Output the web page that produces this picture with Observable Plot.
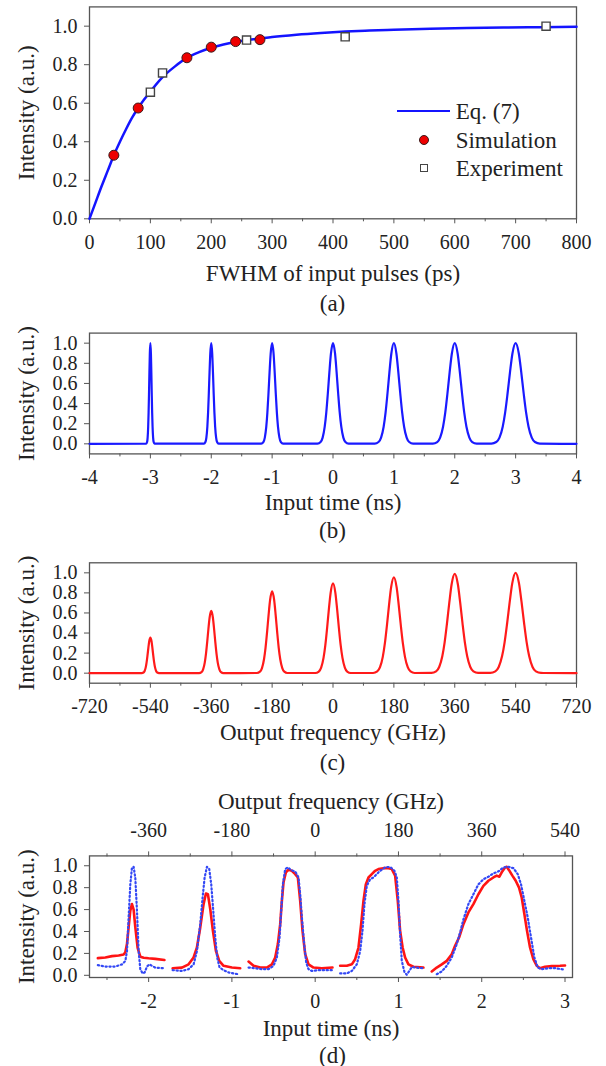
<!DOCTYPE html>
<html><head><meta charset="utf-8">
<script src="https://cdn.jsdelivr.net/npm/d3@7"></script>
<script src="https://cdn.jsdelivr.net/npm/@observablehq/plot@0.6"></script>
<style>
html,body{margin:0;padding:0;background:#fff;}
#root{position:relative;width:606px;height:1066px;overflow:hidden;font-family:'Liberation Serif',serif;color:#222;}
.panel{position:absolute;left:0;}
.panel svg{overflow:visible;}
.cap{position:absolute;font-family:'Liberation Serif',serif;font-size:23px;line-height:1;white-space:nowrap;transform:translate(-50%,-50%);}
.legtxt{position:absolute;font-family:'Liberation Serif',serif;font-size:23px;line-height:1;white-space:nowrap;transform:translateY(-50%);}
</style></head>
<body><div id="root"></div>
<script>
// ---------------- data ----------------
// Panel (a)
const eqFwhm = [0,10,20,30,40,50,60,70,80,90,100,120,140,160,180,200,220,240,260,280,300,340,380,420,460,500,560,620,680,740,800];
const eqInt  = [0,0.085,0.17,0.25,0.33,0.40,0.465,0.525,0.575,0.62,0.66,0.735,0.79,0.835,0.865,0.888,0.905,0.918,0.928,0.936,0.944,0.956,0.965,0.972,0.977,0.981,0.986,0.99,0.993,0.995,0.997];
const simFwhm = [40,80,160,200,240,280];
const simInt  = [0.33,0.575,0.836,0.891,0.92,0.93];
const expFwhm = [100,120,258,420,750];
const expInt  = [0.657,0.757,0.928,0.945,1.0];
const aXTicks = [0,100,200,300,400,500,600,700,800];
const aXMinor = [50,150,250,350,450,550,650,750];
const yTicks  = [0,0.2,0.4,0.6,0.8,1.0];

// normalized pulse profile (offset in FWHM units, relative height)
const profileU = [-1.5,-1.2,-1.0,-0.8,-0.65,-0.5,-0.35,-0.2,0,0.2,0.35,0.5,0.65,0.8,1.0,1.2,1.5];
const profileV = [0.002,0.018,0.062,0.17,0.31,0.5,0.71,0.895,1,0.895,0.71,0.5,0.31,0.17,0.062,0.018,0.002];

// Panel (b)
const bCenters = [-3,-2,-1,0,1,2,3];          // ns
const bFwhm    = [0.045,0.08,0.12,0.17,0.21,0.24,0.265];
const bPeak    = [1,1,1,1,1,1,1];
const bXTicks  = [-4,-3,-2,-1,0,1,2,3,4];
const bXMinor  = [-3.5,-2.5,-1.5,-0.5,0.5,1.5,2.5,3.5];

// Panel (c)
const cCenters = [-540,-360,-180,0,180,360,540]; // GHz
const cFwhm    = [17,24,30,35,41,46,50];
const cPeak    = [0.355,0.62,0.815,0.895,0.955,0.99,1.0];
const cXTicks  = [-720,-540,-360,-180,0,180,360,540,720];
const cXMinor  = [-630,-450,-270,-90,90,270,450,630];

// Panel (d)
const dXTicks = [-2,-1,0,1,2,3];
const dXMinor = [-2.5,-1.5,-0.5,0.5,1.5,2.5];
const dTopGHz = [-360,-180,0,180,360,540];
const dTopMinorGHz = [-450,-270,-90,90,270,450];
const ghzPerNs = 180;
const redSegs = [
 [[-2.61,0.157],[-2.52,0.163],[-2.44,0.175],[-2.36,0.181],[-2.30,0.19],[-2.28,0.21],[-2.26,0.285],[-2.24,0.44],[-2.22,0.59],[-2.20,0.65],[-2.18,0.60],[-2.16,0.44],[-2.132,0.25],[-2.10,0.17],[-2.06,0.16],[-2.0,0.155],[-1.92,0.15],[-1.81,0.14]],
 [[-1.712,0.065],[-1.6,0.07],[-1.52,0.10],[-1.46,0.163],[-1.42,0.254],[-1.38,0.437],[-1.34,0.65],[-1.312,0.747],[-1.288,0.74],[-1.26,0.604],[-1.228,0.406],[-1.192,0.224],[-1.152,0.132],[-1.10,0.087],[-1.0,0.071],[-0.9,0.065]],
 [[-0.80,0.126],[-0.74,0.087],[-0.66,0.071],[-0.58,0.071],[-0.52,0.10],[-0.48,0.163],[-0.448,0.285],[-0.42,0.467],[-0.40,0.68],[-0.38,0.85],[-0.352,0.94],[-0.32,0.964],[-0.28,0.954],[-0.24,0.924],[-0.208,0.893],[-0.18,0.68],[-0.152,0.406],[-0.12,0.193],[-0.08,0.10],[-0.02,0.071],[0.08,0.065],[0.208,0.071]],
 [[0.30,0.087],[0.38,0.087],[0.44,0.10],[0.48,0.147],[0.52,0.254],[0.552,0.467],[0.58,0.68],[0.608,0.83],[0.64,0.893],[0.68,0.924],[0.72,0.954],[0.76,0.97],[0.82,0.978],[0.88,0.978],[0.92,0.97],[0.96,0.91],[0.992,0.68],[1.02,0.406],[1.05,0.254],[1.08,0.163],[1.12,0.10],[1.18,0.078],[1.30,0.071]],
 [[1.40,0.035],[1.46,0.071],[1.52,0.10],[1.58,0.132],[1.64,0.193],[1.68,0.27],[1.728,0.345],[1.78,0.467],[1.84,0.574],[1.90,0.65],[1.96,0.74],[2.02,0.817],[2.08,0.863],[2.14,0.893],[2.18,0.91],[2.212,0.90],[2.24,0.94],[2.28,0.985],[2.30,0.99],[2.328,0.96],[2.368,0.91],[2.408,0.863],[2.448,0.80],[2.48,0.71],[2.512,0.56],[2.544,0.406],[2.58,0.254],[2.62,0.147],[2.66,0.087],[2.70,0.065],[2.76,0.078],[2.84,0.084],[2.94,0.087],[3.0,0.09]]
];
const blueSegs = [
 [[-2.61,0.093],[-2.52,0.08],[-2.40,0.08],[-2.32,0.10],[-2.28,0.13],[-2.26,0.22],[-2.24,0.53],[-2.22,0.83],[-2.20,0.985],[-2.18,0.99],[-2.16,0.89],[-2.14,0.59],[-2.12,0.22],[-2.10,0.056],[-2.072,0.017],[-2.048,0.025],[-2.02,0.08],[-1.992,0.10],[-1.96,0.087],[-1.92,0.07],[-1.82,0.065]],
 [[-1.712,0.047],[-1.6,0.04],[-1.52,0.056],[-1.46,0.10],[-1.42,0.22],[-1.38,0.467],[-1.352,0.71],[-1.328,0.89],[-1.30,0.99],[-1.272,0.97],[-1.248,0.83],[-1.224,0.59],[-1.20,0.345],[-1.176,0.16],[-1.148,0.071],[-1.10,0.047],[-1.04,0.026],[-0.98,0.017],[-0.92,0.01]],
 [[-0.80,0.071],[-0.72,0.065],[-0.64,0.056],[-0.56,0.056],[-0.50,0.087],[-0.46,0.163],[-0.428,0.345],[-0.408,0.59],[-0.388,0.83],[-0.36,0.97],[-0.328,0.985],[-0.288,0.96],[-0.24,0.948],[-0.20,0.893],[-0.18,0.74],[-0.16,0.53],[-0.132,0.285],[-0.108,0.117],[-0.08,0.056],[-0.04,0.04],[0.04,0.047],[0.20,0.047]],
 [[0.30,0.017],[0.38,0.017],[0.44,0.04],[0.50,0.10],[0.54,0.22],[0.568,0.406],[0.592,0.65],[0.62,0.817],[0.66,0.877],[0.70,0.893],[0.74,0.924],[0.78,0.954],[0.84,0.985],[0.90,0.99],[0.952,0.954],[0.98,0.893],[1.0,0.68],[1.02,0.376],[1.04,0.132],[1.072,0.03],[1.10,0.005],[1.13,0.04],[1.16,0.075],[1.22,0.07],[1.29,0.065]],
 [[1.46,0.01],[1.52,0.035],[1.58,0.087],[1.64,0.163],[1.70,0.285],[1.74,0.39],[1.78,0.51],[1.84,0.65],[1.90,0.74],[1.96,0.83],[2.02,0.877],[2.08,0.90],[2.14,0.93],[2.20,0.948],[2.26,0.985],[2.32,0.99],[2.38,0.978],[2.432,0.924],[2.472,0.83],[2.512,0.68],[2.552,0.53],[2.592,0.345],[2.632,0.163],[2.672,0.071],[2.72,0.056],[2.80,0.065],[2.88,0.065],[2.96,0.056],[3.0,0.053]]
];

// ---------------- helpers ----------------
const FONT = "'Liberation Serif', serif";
const AX = "#555";
const TXT = "#222";
const fmt1 = d3.format(".1f");
const root = document.getElementById("root");

function pulseTrain(centers, widths, peaks, lo, hi) {
  const pts = [{x: lo, y: 0}];
  centers.forEach((c, i) => profileU.forEach((u, j) => pts.push({x: c + u * widths[i], y: peaks[i] * profileV[j]})));
  pts.push({x: hi, y: 0});
  return pts;
}
function zip(xs, ys) { return xs.map((x, i) => ({x, y: ys[i]})); }
function flat(segs) { return segs.flatMap((s, k) => s.map(([t, v]) => ({t, v, k}))); }

function commonAxes({xTicks, xMinor, xLabel, xLabelOffset, yLabelOffset = 72}) {
  return [
    Plot.axisY({ticks: yTicks, tickFormat: fmt1, tickSize: 5, tickPadding: 7, stroke: AX, fill: TXT, label: null}),
    Plot.axisY({ticks: [], tickSize: 0, label: "Intensity (a.u.)", labelAnchor: "center", labelArrow: "none", labelOffset: yLabelOffset, fontSize: 23, fill: TXT}),
    Plot.axisX({ticks: xTicks, tickFormat: d => String(d), tickSize: 5, tickPadding: 11, stroke: AX, fill: TXT, label: null}),
    Plot.axisX({ticks: xMinor, tickSize: 3, stroke: AX, fill: "none", label: null}),
    Plot.axisX({ticks: [], tickSize: 0, label: xLabel, labelAnchor: "center", labelArrow: "none", labelOffset: xLabelOffset, fontSize: 23, fill: TXT}),
    Plot.frame({stroke: AX, strokeWidth: 1.3})
  ];
}
function place(svg, top) {
  const d = document.createElement("div");
  d.className = "panel"; d.style.top = top + "px";
  d.appendChild(svg); root.appendChild(d);
}
function caption(text, x, y) {
  const d = document.createElement("div");
  d.className = "cap"; d.textContent = text;
  d.style.left = x + "px"; d.style.top = y + "px";
  root.appendChild(d);
}
const baseStyle = {fontFamily: FONT, fontSize: "20px", color: TXT, background: "transparent", overflow: "visible"};

// ---------------- panel (a) ----------------
const plotA = Plot.plot({
  width: 606, height: 290,
  marginTop: 6.4, marginBottom: 71.7, marginLeft: 89, marginRight: 30,
  style: baseStyle,
  x: {domain: [0, 800]},
  y: {domain: [0, 1.1]},
  marks: [
    ...commonAxes({xTicks: aXTicks, xMinor: aXMinor, xLabel: "FWHM of input pulses (ps)", xLabelOffset: 62}),
    Plot.line(zip(eqFwhm, eqInt), {x: "x", y: "y", stroke: "#1414ff", strokeWidth: 2.5, curve: "monotone-x"}),
    Plot.dot(zip(simFwhm, simInt), {x: "x", y: "y", r: 5, fill: "#ee0000", stroke: "#3a1a1a", strokeWidth: 1}),
    Plot.dot(zip(expFwhm, expInt), {x: "x", y: "y", symbol: "square", r: 4.6, fill: "white", stroke: "#444", strokeWidth: 1.4})
  ]
});
place(plotA, 0);
caption("(a)", 332.5, 303);

// legend for (a)
(function legend() {
  const mk = (css) => { const d = document.createElement("div"); d.style.position = "absolute"; Object.assign(d.style, css); root.appendChild(d); return d; };
  mk({left: "397px", top: "109.8px", width: "53px", height: "2.5px", background: "#1414ff"});
  mk({left: "418.6px", top: "135px", width: "10px", height: "10px", borderRadius: "50%", background: "#ee0000", boxSizing: "border-box", border: "1px solid #3a1a1a"});
  mk({left: "419.6px", top: "164.3px", width: "8px", height: "8px", background: "#fff", boxSizing: "border-box", border: "1.4px solid #444"});
  [["Eq. (7)", 111], ["Simulation", 140], ["Experiment", 168.3]].forEach(([t, y]) => {
    const d = mk({left: "455.7px", top: y + "px"}); d.className = "legtxt"; d.textContent = t;
  });
})();

// ---------------- panel (b) ----------------
const plotB = Plot.plot({
  width: 606, height: 200,
  marginTop: 12.6, marginBottom: 66.6, marginLeft: 89, marginRight: 30,
  style: baseStyle,
  x: {domain: [-4, 4]},
  y: {domain: [-0.1, 1.1]},
  marks: [
    ...commonAxes({xTicks: bXTicks, xMinor: bXMinor, xLabel: "Input time (ns)", xLabelOffset: 55.6}),
    Plot.line(pulseTrain(bCenters, bFwhm, bPeak, -4, 4), {x: "x", y: "y", stroke: "#1a1aff", strokeWidth: 2.2, curve: "monotone-x"})
  ]
});
place(plotB, 320);
caption("(b)", 332.5, 530);

// ---------------- panel (c) ----------------
const plotC = Plot.plot({
  width: 606, height: 200,
  marginTop: 12.3, marginBottom: 67.3, marginLeft: 89, marginRight: 30,
  style: baseStyle,
  x: {domain: [-720, 720]},
  y: {domain: [-0.1, 1.1]},
  marks: [
    ...commonAxes({xTicks: cXTicks, xMinor: cXMinor, xLabel: "Output frequency (GHz)", xLabelOffset: 56.3}),
    Plot.line(pulseTrain(cCenters, cFwhm, cPeak, -720, 720), {x: "x", y: "y", stroke: "#ff1a1a", strokeWidth: 2.2, curve: "monotone-x"})
  ]
});
place(plotC, 550);
caption("(c)", 332.5, 761.7);

// ---------------- panel (d) ----------------
const plotD = Plot.plot({
  width: 606, height: 280,
  marginTop: 85.4, marginBottom: 73, marginLeft: 89, marginRight: 34,
  style: baseStyle,
  x: {domain: [-2.71, 3.09]},
  y: {domain: [-0.02, 1.09]},
  marks: [
    ...commonAxes({xTicks: dXTicks, xMinor: dXMinor, xLabel: "Input time (ns)", xLabelOffset: 58}),
    Plot.axisX({anchor: "top", ticks: dTopGHz.map(g => g / ghzPerNs), tickFormat: v => String(Math.round(v * ghzPerNs)), tickSize: 5, tickPadding: 14, stroke: AX, fill: TXT, label: null}),
    Plot.axisX({anchor: "top", ticks: dTopMinorGHz.map(g => g / ghzPerNs), tickSize: 3, stroke: AX, fill: "none", label: null}),
    Plot.axisX({anchor: "top", ticks: [], tickSize: 0, label: "Output frequency (GHz)", labelAnchor: "center", labelArrow: "none", labelOffset: 62.8, fontSize: 23, fill: TXT}),
    Plot.line(flat(redSegs), {x: "t", y: "v", z: "k", stroke: "#ff1414", strokeWidth: 2.6, strokeLinejoin: "round"}),
    Plot.line(flat(blueSegs), {x: "t", y: "v", z: "k", stroke: "#3348f5", strokeWidth: 2.2, strokeDasharray: "1.3 2.6"})
  ]
});
place(plotD, 770);
caption("(d)", 332.5, 1055);
</script>
</body></html>
